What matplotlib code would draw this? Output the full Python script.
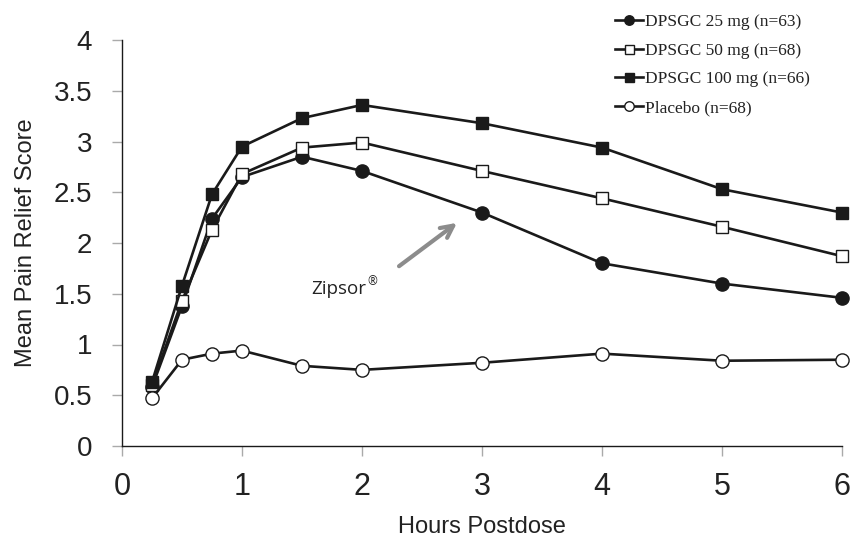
import matplotlib
matplotlib.use("Agg")
import matplotlib.pyplot as plt

hours = [0.25, 0.5, 0.75, 1, 1.5, 2, 3, 4, 5, 6]
dose_25 = [0.58, 1.38, 2.24, 2.65, 2.85, 2.71, 2.30, 1.80, 1.60, 1.46]
dose_50 = [0.60, 1.43, 2.13, 2.68, 2.94, 2.99, 2.71, 2.44, 2.16, 1.87]
dose_100 = [0.63, 1.58, 2.48, 2.95, 3.23, 3.36, 3.18, 2.94, 2.53, 2.30]
placebo = [0.47, 0.85, 0.91, 0.94, 0.79, 0.75, 0.82, 0.91, 0.84, 0.85]

series_labels = [
    "DPSGC 25 mg (n=63)",
    "DPSGC 50 mg (n=68)",
    "DPSGC 100 mg (n=66)",
    "Placebo (n=68)",
]
x_ticks = [0, 1, 2, 3, 4, 5, 6]
y_ticks = [0, 0.5, 1, 1.5, 2, 2.5, 3, 3.5, 4]
y_tick_labels = ["0", "0.5", "1", "1.5", "2", "2.5", "3", "3.5", "4"]

line_color = "#1a1a1a"
tick_color = "#aaaaaa"
text_color = "#222222"

fig = plt.figure(figsize=(8.5, 5.41), dpi=100)
ax = fig.add_axes([122 / 850, 1 - 446 / 541, 720 / 850, 406 / 541])

styles = [
    (dose_25, "o", line_color),
    (dose_50, "s", "white"),
    (dose_100, "s", line_color),
    (placebo, "o", "white"),
]
for (values, marker, face), label in zip(styles, series_labels):
    ax.plot(
        hours,
        values,
        color=line_color,
        linewidth=1.9,
        marker=marker,
        markersize=9.5 if marker == "o" else 9,
        markerfacecolor=face,
        markeredgecolor=line_color,
        markeredgewidth=1.0,
        label=label,
        clip_on=False,
        zorder=3,
    )

ax.set_xlim(0, 6)
ax.set_ylim(0, 4)
ax.set_xticks(x_ticks)
ax.set_yticks(y_ticks)
ax.set_yticklabels(y_tick_labels)
for side in ("top", "right"):
    ax.spines[side].set_visible(False)
for side in ("left", "bottom"):
    ax.spines[side].set_color(line_color)
    ax.spines[side].set_linewidth(1.0)
ax.tick_params(axis="both", direction="out", color=tick_color, length=7.5, width=1.0,
               labelcolor=text_color, labelfontfamily="Liberation Sans")
ax.tick_params(axis="y", labelsize=20, pad=14)
ax.tick_params(axis="x", labelsize=22, pad=11)

ax.set_ylabel("Mean Pain Relief Score", fontsize=17, family="Liberation Sans",
              color=text_color, labelpad=12)
ax.set_xlabel("Hours Postdose", fontsize=17, family="Liberation Sans",
              color=text_color, labelpad=10)

ax.annotate(
    "",
    xy=(2.81, 2.215),
    xytext=(2.29, 1.755),
    arrowprops=dict(arrowstyle="->", color="#8c8c8c", lw=3, mutation_scale=22),
)
ax.text(1.58, 1.55, "Zipsor", fontsize=13.5, family="Open Sans",
        color=text_color, ha="left", va="center")
ax.annotate("\u00ae", xy=(1.58, 1.55), xytext=(40, 5), textcoords="offset points",
            fontsize=8.5, family="Open Sans", color=text_color, ha="left", va="center")

leg = fig.legend(
    loc="upper left",
    bbox_to_anchor=(615 / 850, 1 - 14 / 541),
    frameon=False,
    prop={"family": "Liberation Serif", "size": 12.5},
    handlelength=1.6,
    handletextpad=0.1,
    labelspacing=0.72,
    borderpad=0,
    borderaxespad=0,
    markerscale=0.72,
)
for text in leg.get_texts():
    text.set_color(text_color)

fig.savefig("out.png", dpi=100)
